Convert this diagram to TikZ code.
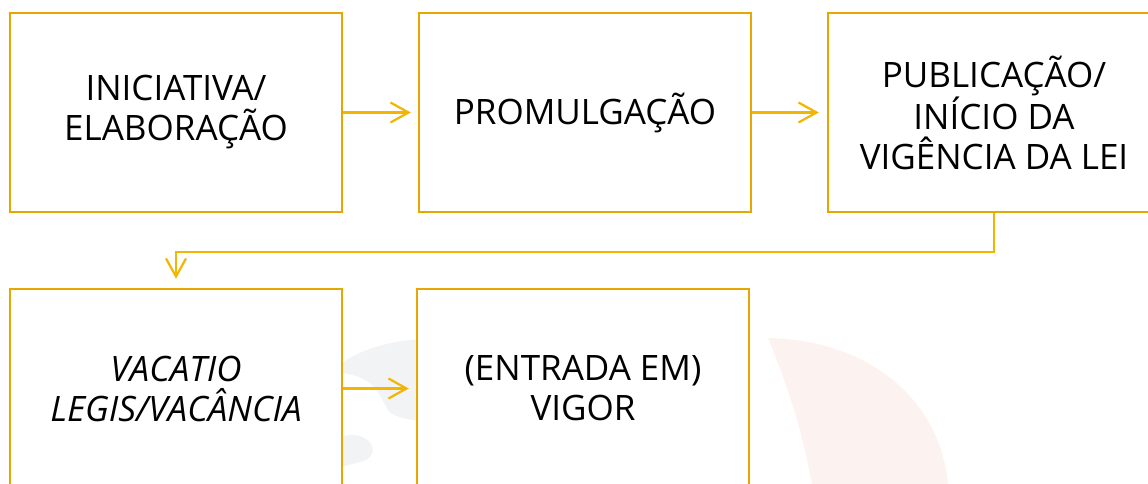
\documentclass[tikz,border=0pt]{standalone}
\usepackage{fontspec}
\setmainfont{Open Sans}
\usetikzlibrary{arrows.meta}
\definecolor{boxgold}{HTML}{E6A800}
\definecolor{linegold}{HTML}{F2B600}
\definecolor{wmgray}{HTML}{F2F3F5}
\definecolor{wmpink}{HTML}{FCF3F0}
\tikzset{
  stepbox/.style={draw=boxgold, line width=2.5pt, fill=white, rectangle,
    minimum width=332pt, minimum height=199pt, inner sep=0pt, align=center,
    font=\fontsize{35}{40}\selectfont, text=black},
  conn/.style={draw=linegold, line width=2.2pt, -{Straight Barb[length=18pt,width=20pt,line width=2.2pt]}}
}
\begin{document}
\begin{tikzpicture}[x=1pt,y=-1pt]
\useasboundingbox (0,0) rectangle (1148,484);
\fill[white] (0,0) rectangle (1148,484);
% watermark shapes
\fill[wmpink] (768,338) .. controls (870,340) and (940,400) .. (948,484)
  -- (812,484) .. controls (800,420) and (785,380) .. (768,338) -- cycle;
\fill[wmgray] (342,363) .. controls (360,350) and (390,340) .. (425,339)
  -- (425,421) .. controls (405,420) and (392,416) .. (388,410)
  .. controls (380,395) and (375,385) .. (365,380)
  .. controls (358,376) and (350,374) .. (342,373) -- cycle;
\fill[wmgray] (342,437) .. controls (352,432) and (366,436) .. (371,444)
  .. controls (376,452) and (370,460) .. (360,462)
  .. controls (352,464) and (346,466) .. (342,466) -- cycle;
% boxes
\node[stepbox] (b1) at (176,112.5) {INICIATIVA/\\ELABORAÇÃO};
\node[stepbox] (b2) at (585,112.5) {PROMULGAÇÃO};
\node[stepbox] (b3) at (994,112.5) {PUBLICAÇÃO/\\INÍCIO DA\\VIGÊNCIA DA LEI};
\node[stepbox] (b4) at (176,388.5) {\itshape VACATIO\\\itshape LEGIS/VACÂNCIA};
\node[stepbox] (b5) at (583,388.5) {(ENTRADA EM)\\VIGOR};
% connectors
\draw[conn] (b1.east) -- ([xshift=-7pt]b2.west);
\draw[conn] (b2.east) -- ([xshift=-8pt]b3.west);
\draw[conn] (b3.south) -- ++(0,39) -| ([yshift=9pt]b4.north);
\draw[conn] (b4.east) -- ([xshift=-7pt]b5.west);
\end{tikzpicture}
\end{document}
